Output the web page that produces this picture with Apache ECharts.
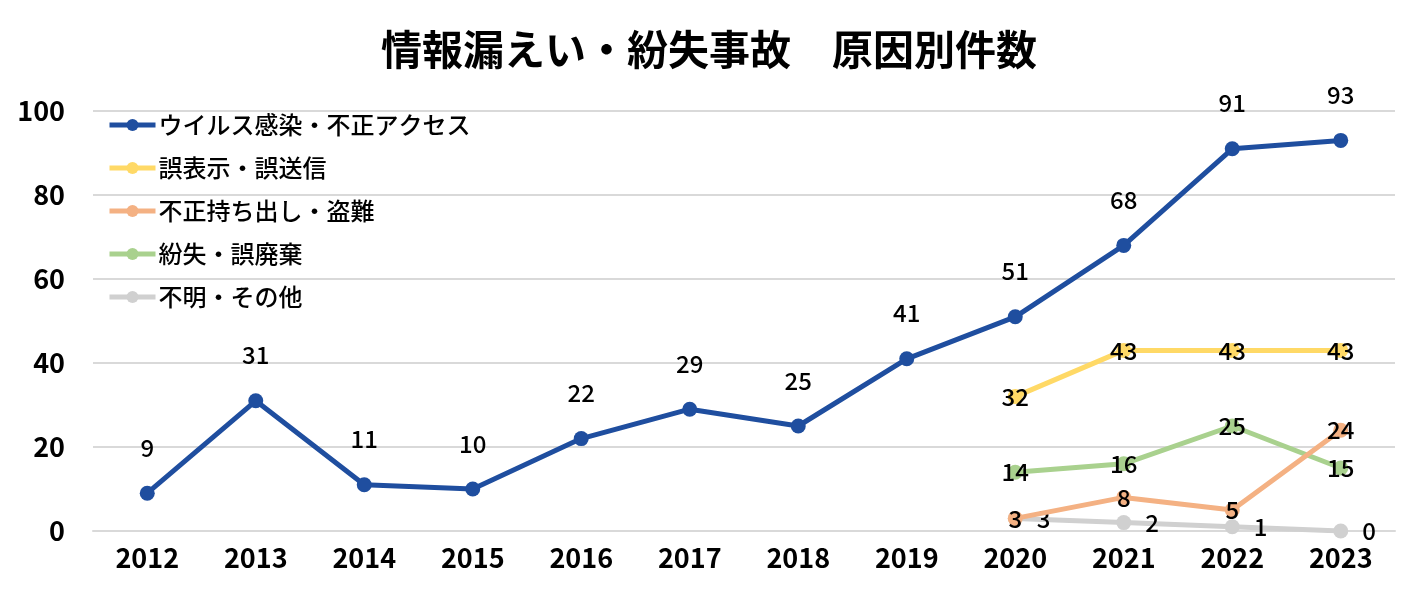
<!DOCTYPE html>
<html>
<head>
<meta charset="utf-8">
<script src="https://cdn.jsdelivr.net/npm/echarts@6/dist/echarts.min.js"></script>
<style>
html, body { margin:0; padding:0; background:#fff; }
#chart { width:1418px; height:591px; }
</style>
</head>
<body>
<div id="chart"></div>
<script>
// data
const years = ["2012","2013","2014","2015","2016","2017","2018","2019","2020","2021","2022","2023"];
const virus = [9, 31, 11, 10, 22, 29, 25, 41, 51, 68, 91, 93];
const misSend = [null, null, null, null, null, null, null, null, 32, 43, 43, 43];
const theft = [null, null, null, null, null, null, null, null, 3, 8, 5, 24];
const lost = [null, null, null, null, null, null, null, null, 14, 16, 25, 15];
const other = [null, null, null, null, null, null, null, null, 3, 2, 1, 0];
const seriesNames = ["ウイルス感染・不正アクセス", "誤表示・誤送信", "不正持ち出し・盗難", "紛失・誤廃棄", "不明・その他"];
const colors = ["#1f4e9f", "#ffd966", "#f4b183", "#a9d18e", "#d0d0d0"];

const FONT = "'Noto Sans CJK JP', 'Noto Sans', sans-serif";
const chart = echarts.init(document.getElementById("chart"));

function lineSeries(idx, data, labelOpts) {
    return {
        name: seriesNames[idx],
        type: "line",
        data: data,
        symbol: "circle",
        symbolSize: 15,
        lineStyle: { width: 5, color: colors[idx] },
        itemStyle: { color: colors[idx] },
        label: Object.assign({
            show: true,
            color: "#000",
            fontFamily: FONT,
            fontSize: 24,
            fontWeight: 500
        }, labelOpts),
        emphasis: { disabled: true },
        z: 10 - idx
    };
}

chart.setOption({
    animation: false,
    color: colors,
    title: {
        text: "情報漏えい・紛失事故　原因別件数",
        left: "center",
        top: 24,
        textStyle: { fontFamily: FONT, fontSize: 41, fontWeight: "bold", color: "#000" }
    },
    legend: {
        orient: "vertical",
        left: 102,
        top: 108,
        itemGap: 19,
        itemWidth: 46,
        itemHeight: 15,
        lineStyle: { width: 5 },
        textStyle: { fontFamily: FONT, fontSize: 24, fontWeight: 500, color: "#000", padding: [0, 0, 0, -2] },
        data: seriesNames
    },
    grid: { left: 93, right: 23, top: 111, bottom: 60 },
    xAxis: {
        type: "category",
        data: years,
        boundaryGap: true,
        axisLine: { show: true, lineStyle: { color: "#d9d9d9", width: 2 } },
        axisTick: { show: false },
        axisLabel: { fontFamily: FONT, fontSize: 27, fontWeight: "bold", color: "#000", margin: 13 }
    },
    yAxis: {
        type: "value",
        min: 0,
        max: 100,
        interval: 20,
        axisLine: { show: false },
        axisTick: { show: false },
        splitLine: { lineStyle: { color: "#d9d9d9", width: 2 } },
        axisLabel: { fontFamily: FONT, fontSize: 27, fontWeight: "bold", color: "#000", margin: 28 }
    },
    series: [
        lineSeries(0, virus, { position: "top", distance: 26 }),
        lineSeries(1, misSend, { position: "inside" }),
        lineSeries(2, theft, { position: "inside" }),
        lineSeries(3, lost, { position: "inside" }),
        lineSeries(4, other, { position: "right", distance: 14 })
    ]
});
</script>
</body>
</html>
